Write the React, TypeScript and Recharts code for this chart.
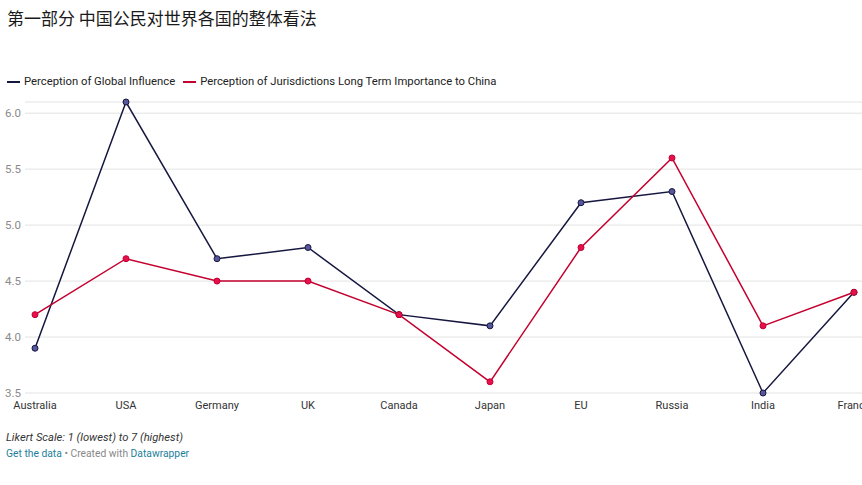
import React from "react";
import { LineChart, Line, XAxis, YAxis, CartesianGrid } from "recharts";

const categories = ["Australia", "USA", "Germany", "UK", "Canada", "Japan", "EU", "Russia", "India", "France"];
const globalInfluence = [3.9, 6.1, 4.7, 4.8, 4.2, 4.1, 5.2, 5.3, 3.5, 4.4];
const importanceToChina = [4.2, 4.7, 4.5, 4.5, 4.2, 3.6, 4.8, 5.6, 4.1, 4.4];
const yTicks = [3.5, 4.0, 4.5, 5.0, 5.5, 6.0];

const seriesNames = ["Perception of Global Influence", "Perception of Jurisdictions Long Term Importance to China"];

const data = categories.map((c, i) => ({
  name: c,
  g: globalInfluence[i],
  r: importanceToChina[i],
}));

const FONT = "Roboto, 'Noto Sans', sans-serif";
const NAVY = "#16173f";
const NAVY_DOT = "#56569a";
const RED = "#c4002f";
const RED_DOT = "#e5104c";

const YTick = (props: any) => {
  const { y, payload } = props;
  return (
    <text x={5} y={y + 4} fontSize={11.5} fill="#8a8a8a" fontFamily={FONT} textAnchor="start">
      {payload.value.toFixed(1)}
    </text>
  );
};

const XTick = (props: any) => {
  const { x, y, payload } = props;
  return (
    <text x={x} y={y + 8} fontSize={11} fill="#333" fontFamily={FONT} textAnchor="middle">
      {payload.value}
    </text>
  );
};

export default function App() {
  return (
    <div style={{ position: "absolute", left: 0, top: 0, width: 862, height: 485, background: "#fff", overflow: "hidden", fontFamily: FONT }}>
      <div style={{ position: "absolute", left: 7, top: 6, fontSize: 17, color: "#1a1a1a", fontFamily: "'Noto Sans CJK SC', sans-serif", whiteSpace: "nowrap", lineHeight: "24px" }}>
        第一部分 中国公民对世界各国的整体看法
      </div>
      <div style={{ position: "absolute", left: 7, top: 74, fontSize: 11.3, color: "#222", whiteSpace: "nowrap", display: "flex", alignItems: "center", lineHeight: "16px" }}>
        <span style={{ display: "inline-block", width: 13, height: 2, background: NAVY, marginRight: 4 }} />
        <span style={{ marginRight: 8 }}>{seriesNames[0]}</span>
        <span style={{ display: "inline-block", width: 13, height: 2, background: RED, marginRight: 4 }} />
        <span>{seriesNames[1]}</span>
      </div>
      <div style={{ position: "absolute", left: 0, top: 0 }}>
        <LineChart width={862} height={485} data={data} margin={{ top: 102, right: 0, bottom: 72, left: 0 }}>
          <CartesianGrid vertical={false} stroke="#e3e3e3" strokeWidth={1} />
          <XAxis
            dataKey="name"
            scale="point"
            padding={{ left: 10, right: 8 }}
            axisLine={false}
            tickLine={false}
            interval={0}
            height={20}
            tick={<XTick />}
          />
          <YAxis
            width={25}
            domain={[3.5, 6.1]}
            ticks={yTicks}
            axisLine={false}
            tickLine={false}
            tick={<YTick />}
          />
          <Line
            type="linear"
            dataKey="g"
            stroke={NAVY}
            strokeWidth={1.5}
            dot={{ r: 3, fill: NAVY_DOT, stroke: NAVY, strokeWidth: 1 }}
            isAnimationActive={false}
          />
          <Line
            type="linear"
            dataKey="r"
            stroke={RED}
            strokeWidth={1.5}
            dot={{ r: 3, fill: RED_DOT, stroke: RED, strokeWidth: 1 }}
            isAnimationActive={false}
          />
        </LineChart>
      </div>
      <div style={{ position: "absolute", left: 6, top: 431, fontSize: 11.2, fontStyle: "italic", color: "#333", whiteSpace: "nowrap" }}>
        Likert Scale: 1 (lowest) to 7 (highest)
      </div>
      <div style={{ position: "absolute", left: 6, top: 447, fontSize: 10.3, color: "#888", whiteSpace: "nowrap" }}>
        <span style={{ color: "#1d7f9c" }}>Get the data</span> • Created with <span style={{ color: "#1d7f9c" }}>Datawrapper</span>
      </div>
    </div>
  );
}
